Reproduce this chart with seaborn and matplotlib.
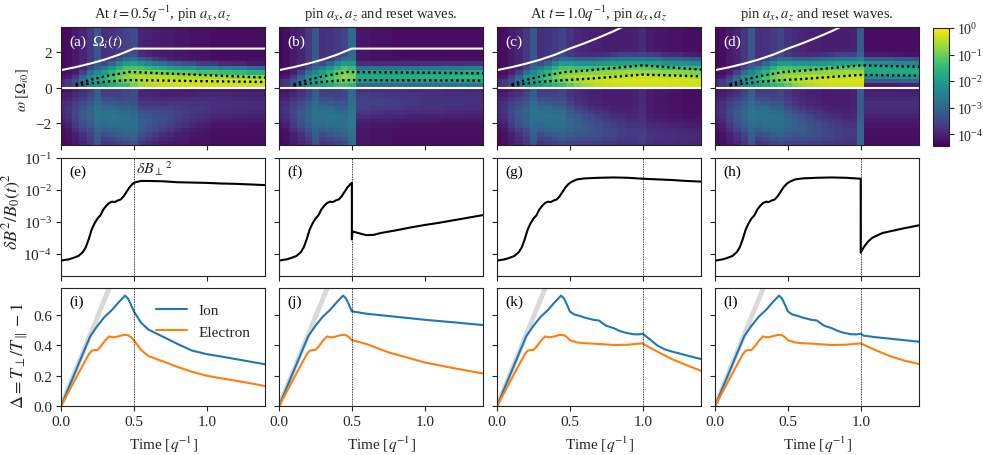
import numpy as np
import matplotlib
matplotlib.use("Agg")
import matplotlib.pyplot as plt
import seaborn as sns
from matplotlib.colors import LogNorm
from matplotlib.ticker import FixedLocator, NullLocator, LogFormatterSciNotation, NullFormatter

# ---------------------------------------------------------------- data
# time bins of the spectrogram (centres 0.00 ... 1.40) and frequency bins
T_CENTRES = [round(0.05 * k, 2) for k in range(29)]
W_CENTRES = [round(-3.125 + 0.25 * k, 3) for k in range(27)]

# base run (no pinning) -- log10 power of the positive-frequency band
pos_amp_base = [-4.0, -3.8, -3.4, -2.8, -2.2, -1.9, -1.6, -1.3, -1.0, -0.75, -0.65, -0.55, -0.45, -0.4,
                -0.35, -0.32, -0.3, -0.28, -0.26, -0.25, -0.24, -0.25, -0.25, -0.26, -0.27, -0.28, -0.28,
                -0.29, -0.3]
pos_c_base = [0.25, 0.25, 0.3, 0.35, 0.4, 0.45, 0.5, 0.55, 0.6, 0.65, 0.6, 0.5, 0.45, 0.4, 0.38, 0.36,
              0.35, 0.35, 0.35, 0.35, 0.35, 0.33, 0.32, 0.3, 0.3, 0.3, 0.3, 0.28, 0.28]
pos_w_base = [0.2, 0.2, 0.22, 0.24, 0.26, 0.27, 0.28, 0.29, 0.3, 0.3, 0.31, 0.32, 0.33, 0.34, 0.35, 0.36,
              0.37, 0.38, 0.38, 0.38, 0.38, 0.38, 0.38, 0.37, 0.37, 0.37, 0.36, 0.36, 0.36]
neg_amp_base = [-4.1, -3.95, -3.6, -3.3, -3.1, -2.9, -2.85, -2.8, -2.85, -2.9, -3.05, -3.15, -3.25,
                -3.35, -3.45, -3.6, -3.7, -3.8, -3.9, -3.95, -4.0, -4.05, -4.1, -4.1, -4.1, -4.15, -4.15,
                -4.2, -4.2]
neg_c_base = [-1.2, -1.3, -1.4, -1.5, -1.5, -1.5, -1.6, -1.7, -1.8, -1.9, -2.0, -2.1, -2.2, -2.3, -2.4,
              -2.4, -2.5, -2.5, -2.6, -2.6, -2.7, -2.7, -2.7, -2.8, -2.8, -2.8, -2.8, -2.8, -2.8]
bg_base = [-4.35, -4.3, -4.15, -4.0, -3.75, -3.25, -3.85, -3.8, -3.7, -3.55, -3.8, -3.95, -4.0, -4.05,
           -4.05, -4.1, -4.1, -4.1, -4.1, -4.05, -3.9, -4.15, -4.2, -4.2, -4.25, -4.25, -4.3, -4.3, -4.3]

# (a) pinned at t=0.5 (bins from t=0.5 on)
a_pos_amp = [-0.6, -0.45, -0.38, -0.33, -0.3, -0.28, -0.27, -0.26, -0.25, -0.25, -0.25, -0.25, -0.25,
             -0.25, -0.26, -0.26, -0.27, -0.27, -0.28]
a_pos_c = [0.55, 0.45, 0.4, 0.36, 0.34, 0.32, 0.3, 0.3, 0.3, 0.28, 0.28, 0.28, 0.27, 0.27, 0.26, 0.26,
           0.25, 0.25, 0.25]
a_pos_w = [0.33, 0.33, 0.32, 0.31, 0.3, 0.29, 0.29, 0.28, 0.28, 0.27, 0.27, 0.27, 0.26, 0.26, 0.26,
           0.26, 0.25, 0.25, 0.25]
a_neg_amp = [-3.0, -3.2, -3.3, -3.4, -3.5, -3.6, -3.7, -3.8, -3.85, -3.9, -3.95, -4.0, -4.05, -4.05,
             -4.1, -4.1, -4.15, -4.15, -4.15]
a_neg_c = [-2.0, -2.0, -1.9, -1.8, -1.7, -1.6, -1.5, -1.4, -1.3, -1.2, -1.1, -1.0, -1.0, -1.0, -1.0,
           -1.0, -1.0, -1.0, -1.0]
a_bg = [-3.45, -4.0, -4.05, -4.1, -4.15, -4.15, -4.2, -4.2, -4.25, -4.25, -4.25, -4.3, -4.3, -4.3,
        -4.3, -4.3, -4.3, -4.3, -4.3]

# (b) pinned at t=0.5 and waves reset
b_pos_amp = [-0.9, -1.75, -1.75, -1.75, -1.75, -1.75, -1.72, -1.7, -1.7, -1.7, -1.68, -1.66, -1.65,
             -1.62, -1.6, -1.58, -1.56, -1.55, -1.55]
b_pos_c = [0.65, 0.64, 0.64, 0.64, 0.64, 0.64, 0.64, 0.64, 0.64, 0.64, 0.64, 0.64, 0.64, 0.64, 0.64,
           0.64, 0.64, 0.64, 0.64]
b_pos_w = [0.3, 0.22, 0.22, 0.22, 0.22, 0.22, 0.22, 0.22, 0.22, 0.22, 0.22, 0.22, 0.22, 0.22, 0.22,
           0.22, 0.22, 0.22, 0.22]
b_neg_amp = [-2.9, -3.7, -3.7, -3.75, -3.75, -3.8, -3.8, -3.8, -3.85, -3.85, -3.9, -3.9, -3.9, -3.95,
             -3.95, -3.95, -4.0, -4.0, -4.0]
b_neg_c = [-1.8, -0.8, -0.8, -0.8, -0.8, -0.8, -0.8, -0.8, -0.8, -0.8, -0.8, -0.8, -0.8, -0.8, -0.8,
           -0.8, -0.8, -0.8, -0.8]
b_bg = [-2.95, -4.2, -4.2, -4.25, -4.25, -4.25, -4.3, -4.3, -4.3, -4.3, -4.3, -4.3, -4.3, -4.3, -4.3,
        -4.3, -4.3, -4.3, -4.3]

# (d) pinned at t=1.0 and waves reset (bins from t=1.0 on)
d_pos_amp = [-0.24, -1.75, -1.75, -1.75, -1.75, -1.75, -1.75, -1.75, -1.75]
d_pos_c = [0.35, 1.0, 1.0, 1.0, 1.0, 0.98, 0.97, 0.96, 0.95]
d_pos_w = [0.38, 0.24, 0.24, 0.24, 0.24, 0.24, 0.24, 0.24, 0.24]
d_neg_amp = [-3.4, -4.1, -4.1, -4.1, -4.1, -4.1, -4.1, -4.1, -4.1]
d_neg_c = [-2.7, -1.0, -1.0, -1.0, -1.0, -1.0, -1.0, -1.0, -1.0]
d_bg = [-3.2, -4.3, -4.3, -4.3, -4.3, -4.3, -4.3, -4.3, -4.3]

# ion cyclotron frequency Omega_i(t)
omega_t = [0.0, 0.1, 0.2, 0.3, 0.4, 0.5, 0.6, 0.7, 0.8, 0.9]
omega_val = [1.0, 1.17, 1.37, 1.6, 1.88, 2.22, 2.52, 2.85, 3.2, 3.6]

# dotted band limits
dot_t_pre = [0.1, 0.2, 0.3, 0.47]
dot_up_pre = [0.19, 0.45, 0.65, 0.9]
dot_lo_pre = [0.14, 0.25, 0.34, 0.44]
dot_t_a = [1.4]
dot_up_a = [0.58]
dot_lo_a = [0.33]
dot_t_b = [1.4]
dot_up_b = [0.82]
dot_lo_b = [0.41]
dot_t_c = [0.6, 0.8, 1.0, 1.4]
dot_up_c = [0.97, 1.12, 1.27, 1.03]
dot_lo_c = [0.5, 0.62, 0.75, 0.65]
dot_t_d = [0.6, 0.8, 1.0, 1.4]
dot_up_d = [0.97, 1.12, 1.27, 1.19]
dot_lo_d = [0.5, 0.62, 0.73, 0.69]

# delta B^2 (log10), shared run up to t=0.5
db_t_pre = [0.0, 0.0, 0.02, 0.05, 0.08, 0.12, 0.15, 0.17, 0.19, 0.21, 0.23, 0.25, 0.27, 0.29, 0.31,
            0.33, 0.35, 0.37, 0.39, 0.41, 0.43, 0.45, 0.47, 0.49, 0.5]
db_pre = [-4.75, -4.22, -4.2, -4.18, -4.14, -4.07, -3.95, -3.8, -3.55, -3.25, -3.05, -2.9, -2.8, -2.62,
          -2.5, -2.41, -2.37, -2.38, -2.33, -2.3, -2.2, -2.06, -1.92, -1.82, -1.78]
db_t_e = [0.52, 0.55, 0.6, 0.7, 0.8, 0.9, 1.0, 1.1, 1.2, 1.3, 1.4]
db_e = [-1.75, -1.72, -1.72, -1.73, -1.76, -1.77, -1.78, -1.8, -1.81, -1.83, -1.85]
db_t_f = [0.5, 0.505, 0.55, 0.6, 0.65, 0.7, 0.8, 0.9, 1.0, 1.1, 1.2, 1.3, 1.4]
db_f = [-3.55, -3.3, -3.36, -3.42, -3.41, -3.35, -3.27, -3.18, -3.1, -3.03, -2.95, -2.87, -2.79]
db_t_g = [0.52, 0.55, 0.6, 0.7, 0.8, 0.9, 1.0]
db_g = [-1.73, -1.67, -1.64, -1.62, -1.61, -1.62, -1.65]
db_t_g2 = [1.1, 1.2, 1.3, 1.4]
db_g2 = [-1.67, -1.69, -1.72, -1.74]
db_t_h = [1.0, 1.02, 1.05, 1.08, 1.15, 1.2, 1.3, 1.4]
db_h = [-3.97, -3.8, -3.62, -3.5, -3.35, -3.3, -3.2, -3.11]

# temperature anisotropy
ion_t_pre = [0.0, 0.05, 0.1, 0.15, 0.2, 0.25, 0.3, 0.35, 0.4, 0.44, 0.46, 0.48, 0.5]
ion_pre = [0.0, 0.115, 0.23, 0.345, 0.46, 0.53, 0.59, 0.635, 0.69, 0.73, 0.71, 0.67, 0.625]
ele_t_pre = [0.0, 0.05, 0.1, 0.15, 0.19, 0.21, 0.23, 0.25, 0.27, 0.3, 0.33, 0.35, 0.37, 0.4, 0.43,
             0.46, 0.48, 0.5]
ele_pre = [0.0, 0.09, 0.18, 0.27, 0.34, 0.365, 0.37, 0.37, 0.39, 0.43, 0.46, 0.455, 0.455, 0.462,
           0.47, 0.468, 0.455, 0.435]
ion_t_i = [0.55, 0.6, 0.7, 0.8, 0.9, 1.0, 1.1, 1.2, 1.3, 1.4]
ion_i = [0.55, 0.505, 0.458, 0.41, 0.366, 0.343, 0.327, 0.31, 0.293, 0.276]
ele_t_i = [0.55, 0.6, 0.7, 0.8, 0.9, 1.0, 1.1, 1.2, 1.3, 1.4]
ele_i = [0.37, 0.33, 0.295, 0.258, 0.226, 0.2, 0.183, 0.167, 0.15, 0.132]
ion_t_j = [0.505, 0.6, 0.8, 1.0, 1.2, 1.4]
ion_j = [0.625, 0.61, 0.59, 0.57, 0.553, 0.535]
ele_t_j = [0.6, 0.75, 1.0, 1.2, 1.4]
ele_j = [0.41, 0.355, 0.288, 0.25, 0.215]
ion_t_k = [0.53, 0.57, 0.6, 0.66, 0.7, 0.72, 0.75, 0.8, 0.84, 0.88, 0.93, 0.97, 1.0]
ion_k = [0.605, 0.595, 0.585, 0.57, 0.565, 0.55, 0.53, 0.515, 0.497, 0.485, 0.475, 0.473, 0.478]
ele_t_k = [0.55, 0.6, 0.7, 0.8, 0.9, 0.95, 1.0]
ele_k = [0.42, 0.415, 0.41, 0.403, 0.405, 0.41, 0.414]
ion_t_k2 = [1.05, 1.1, 1.15, 1.2, 1.3, 1.4]
ion_k2 = [0.44, 0.4, 0.375, 0.36, 0.335, 0.31]
ele_t_k2 = [1.05, 1.1, 1.2, 1.3, 1.4]
ele_k2 = [0.385, 0.36, 0.31, 0.27, 0.233]
ion_t_l2 = [1.02, 1.1, 1.2, 1.3, 1.4]
ion_l2 = [0.465, 0.455, 0.445, 0.435, 0.425]
ele_t_l2 = [1.1, 1.2, 1.3, 1.4]
ele_l2 = [0.37, 0.33, 0.3, 0.277]
gray_t = [0.0, 0.34]
gray_d = [0.0, 0.8]

TITLES = [r"At $t = 0.5q^{-1}$, pin $a_x, a_z$", r"pin $a_x, a_z$ and reset waves.",
          r"At $t = 1.0q^{-1}$, pin $a_x, a_z$", r"pin $a_x, a_z$ and reset waves."]
PIN_T = [0.5, 0.5, 1.0, 1.0]
LABELS = ["abcd", "efgh", "ijkl"]

# ---------------------------------------------------------------- style
sns.set_theme(style="ticks")
plt.rcParams.update({
    "font.family": ["Liberation Serif", "DejaVu Serif"],
    "mathtext.fontset": "stix",
    "font.size": 11,
    "axes.linewidth": 0.8,
    "axes.edgecolor": "#222222",
    "xtick.direction": "out",
    "ytick.direction": "out",
    "xtick.major.size": 3.5,
    "ytick.major.size": 3.5,
    "xtick.major.width": 0.8,
    "ytick.major.width": 0.8,
    "xtick.major.pad": 3,
    "ytick.major.pad": 3,
    "xtick.labelsize": 11,
    "ytick.labelsize": 11,
    "axes.labelsize": 11,
    "legend.fontsize": 11,
})

W_PX, H_PX = 983, 456
fig = plt.figure(figsize=(W_PX / 100, H_PX / 100), dpi=100)
COL_X = [61, 279, 497, 715]
ROW_Y = [28, 159, 289]
AX_W, AX_H = 204, 118


def add_ax(col, row):
    return fig.add_axes([COL_X[col] / W_PX, 1 - (ROW_Y[row] + AX_H) / H_PX, AX_W / W_PX, AX_H / H_PX])


def splice(base, over, start):
    arr = np.array(base, dtype=float)
    arr[start:start + len(over)] = over
    return arr


tc = np.array(T_CENTRES)
wc = np.array(W_CENTRES)
t_edges = np.concatenate([tc - 0.025, [tc[-1] + 0.025]])
w_edges = np.concatenate([wc - 0.125, [wc[-1] + 0.125]])


def spectrum(pa, pc, pw, na, nc, bg):
    W = wc[None, :]
    pos = 10.0 ** pa[:, None] * np.exp(-0.5 * ((W - pc[:, None]) / pw[:, None]) ** 2) * (W > 0)
    neg = 10.0 ** na[:, None] * np.exp(-0.5 * ((W - nc[:, None]) / 0.55) ** 2) * (W < 0)
    return 10.0 ** bg[:, None] + pos + neg


base = [pos_amp_base, pos_c_base, pos_w_base, neg_amp_base, neg_c_base, bg_base]
overrides = [
    (10, [a_pos_amp, a_pos_c, a_pos_w, a_neg_amp, a_neg_c, a_bg]),
    (10, [b_pos_amp, b_pos_c, b_pos_w, b_neg_amp, b_neg_c, b_bg]),
    (0, None),
    (20, [d_pos_amp, d_pos_c, d_pos_w, d_neg_amp, d_neg_c, d_bg]),
]
dots = [
    (dot_t_pre + dot_t_a, dot_up_pre + dot_up_a, dot_lo_pre + dot_lo_a),
    (dot_t_pre + dot_t_b, dot_up_pre + dot_up_b, dot_lo_pre + dot_lo_b),
    (dot_t_pre + dot_t_c, dot_up_pre + dot_up_c, dot_lo_pre + dot_lo_c),
    (dot_t_pre + dot_t_d, dot_up_pre + dot_up_d, dot_lo_pre + dot_lo_d),
]
norm = LogNorm(vmin=10 ** -4.45, vmax=1.0)
mesh = None
ION_C, ELE_C = "#1f77b4", "#ff7f0e"


def line(ax, x, y, **kw):
    sns.lineplot(x=x, y=y, ax=ax, sort=False, estimator=None, legend=False, **kw)


for col in range(4):
    # ---------------- top row: spectrogram
    ax = add_ax(col, 0)
    start, ov = overrides[col]
    arrs = [splice(b, o, start) for b, o in zip(base, ov)] if ov is not None else [np.array(b, float) for b in base]
    P = spectrum(*arrs)
    mesh = ax.pcolormesh(t_edges, w_edges, P.T, cmap="viridis", norm=norm, shading="flat", rasterized=True)
    ot = np.array(omega_t)
    ov_ = np.array(omega_val)
    if PIN_T[col] == 0.5:
        m = ot <= 0.5
        line(ax, list(ot[m]) + [1.4], list(ov_[m]) + [ov_[m][-1]], color="white", lw=1.5)
    else:
        line(ax, omega_t, omega_val, color="white", lw=1.5)
    line(ax, [0.0, 1.4], [0.0, 0.0], color="white", lw=1.5)
    dt, du, dl = dots[col]
    line(ax, dt, du, color="black", lw=1.7, linestyle=(0, (1, 1.3)))
    line(ax, dt, dl, color="black", lw=1.7, linestyle=(0, (1, 1.3)))
    ax.set_xlim(0, 1.4)
    ax.set_ylim(-3.23, 3.44)
    ax.xaxis.set_major_locator(FixedLocator([0.0, 0.5, 1.0]))
    ax.yaxis.set_major_locator(FixedLocator([-2, 0, 2]))
    ax.set_xticklabels([])
    ax.set_xlabel("")
    ax.set_title(TITLES[col], fontsize=10.5, pad=7)
    ax.text(0.04, 0.88, f"({LABELS[0][col]})", transform=ax.transAxes, color="white", va="center",
            ha="left", fontsize=11)
    if col == 0:
        ax.text(0.15, 0.88, r"$\Omega_i(t)$", transform=ax.transAxes, color="white", va="center",
                ha="left", fontsize=11)
        ax.set_ylabel(r"$\omega\ [\Omega_{i0}]$", fontsize=10.5)
        ax.yaxis.set_label_coords(-0.145, 0.47)
    else:
        ax.set_yticklabels([])
        ax.set_ylabel("")

    # ---------------- middle row: delta B^2
    ax = add_ax(col, 1)
    t_seq = list(db_t_pre)
    v_seq = list(db_pre)
    if col == 0:
        t_seq += db_t_e; v_seq += db_e
    elif col == 1:
        t_seq += db_t_f; v_seq += db_f
    elif col == 2:
        t_seq += db_t_g + db_t_g2; v_seq += db_g + db_g2
    else:
        t_seq += db_t_g + db_t_h; v_seq += db_g + db_h
    line(ax, t_seq, list(10.0 ** np.array(v_seq)), color="black", lw=1.5)
    ax.set_yscale("log")
    ax.set_ylim(2e-5, 1e-1)
    ax.set_xlim(0, 1.4)
    ax.axvline(PIN_T[col], color="black", lw=0.6, ls=(0, (1, 1)))
    ax.yaxis.set_major_locator(FixedLocator([1e-4, 1e-3, 1e-2, 1e-1]))
    ax.yaxis.set_minor_locator(NullLocator())
    ax.yaxis.set_major_formatter(LogFormatterSciNotation())
    ax.xaxis.set_major_locator(FixedLocator([0.0, 0.5, 1.0]))
    ax.set_xticklabels([])
    ax.set_xlabel("")
    ax.text(0.04, 0.89, f"({LABELS[1][col]})", transform=ax.transAxes, color="black", va="center",
            ha="left", fontsize=11)
    if col == 0:
        ax.text(0.515, 1.0, r"$\delta B_\perp{}^2$", transform=ax.get_xaxis_transform(), va="top",
                ha="left", fontsize=11.5)
        ax.set_ylabel(r"$\delta B^2/B_0(t)^2$", fontsize=13)
        ax.yaxis.set_label_coords(-0.185, 0.55)
    else:
        ax.yaxis.set_major_formatter(NullFormatter())
        ax.set_ylabel("")

    # ---------------- bottom row: anisotropy
    ax = add_ax(col, 2)
    line(ax, gray_t, gray_d, color="#d9d9d9", lw=3.5)
    it = list(ion_t_pre); iv = list(ion_pre)
    et = list(ele_t_pre); ev = list(ele_pre)
    if col == 0:
        it += ion_t_i; iv += ion_i; et += ele_t_i; ev += ele_i
    elif col == 1:
        it += ion_t_j; iv += ion_j; et += ele_t_j; ev += ele_j
    elif col == 2:
        it += ion_t_k + ion_t_k2; iv += ion_k + ion_k2
        et += ele_t_k + ele_t_k2; ev += ele_k + ele_k2
    else:
        it += ion_t_k + ion_t_l2; iv += ion_k + ion_l2
        et += ele_t_k + ele_t_l2; ev += ele_k + ele_l2
    sns.lineplot(x=it, y=iv, ax=ax, sort=False, estimator=None, color=ION_C, lw=1.5, label="Ion")
    sns.lineplot(x=et, y=ev, ax=ax, sort=False, estimator=None, color=ELE_C, lw=1.5, label="Electron")
    ax.axvline(PIN_T[col], color="black", lw=0.6, ls=(0, (1, 1)))
    ax.set_xlim(0, 1.4)
    ax.set_ylim(0, 0.78)
    ax.xaxis.set_major_locator(FixedLocator([0.0, 0.5, 1.0]))
    ax.set_xticklabels(["0.0", "0.5", "1.0"])
    ax.yaxis.set_major_locator(FixedLocator([0.0, 0.2, 0.4, 0.6]))
    ax.set_xlabel(r"Time [$q^{-1}$]", fontsize=11)
    ax.text(0.04, 0.89, f"({LABELS[2][col]})", transform=ax.transAxes, color="black", va="center",
            ha="left", fontsize=11)
    if col == 0:
        ax.set_yticklabels(["0.0", "0.2", "0.4", "0.6"])
        ax.set_ylabel(r"$\Delta = T_\perp/T_\parallel - 1$", fontsize=13)
        ax.yaxis.set_label_coords(-0.145, 0.43)
        ax.legend(loc="upper right", frameon=False, handlelength=2.0, borderaxespad=0.4,
                  bbox_to_anchor=(0.99, 0.97))
    else:
        ax.set_yticklabels([])
        ax.set_ylabel("")
        if ax.get_legend() is not None:
            ax.get_legend().remove()

# colour bar
cax = fig.add_axes([933 / W_PX, 1 - 147 / H_PX, 16 / W_PX, 118 / H_PX])
cb = fig.colorbar(mesh, cax=cax)
cb.set_ticks([1e-4, 1e-3, 1e-2, 1e-1, 1e0])
cb.ax.yaxis.set_major_formatter(LogFormatterSciNotation())
cb.ax.yaxis.set_minor_locator(NullLocator())
cb.ax.tick_params(labelsize=10, pad=2)
cb.outline.set_linewidth(0.8)

fig.savefig("out.png", dpi=100)
